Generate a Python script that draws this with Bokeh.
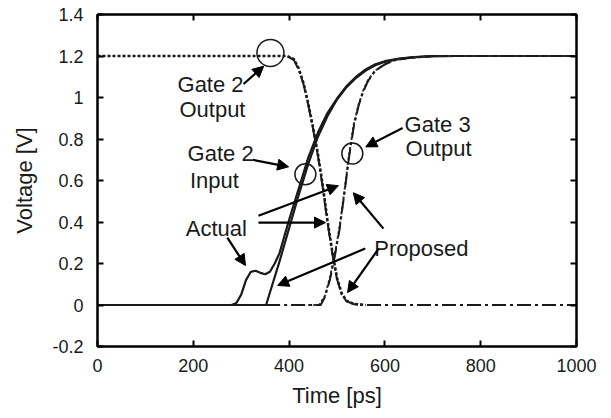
from bokeh.plotting import figure
from bokeh.models import Range1d, LinearAxis, FixedTicker, CustomJSTickFormatter, Arrow, NormalHead
from bokeh.core.properties import value
from bokeh.embed import file_html
from bokeh.resources import INLINE

# ---------------- data ----------------
x_ticks = [0, 200, 400, 600, 800, 1000]
y_ticks = [-0.2, 0, 0.2, 0.4, 0.6, 0.8, 1.0, 1.2, 1.4]

# Gate 2 input, actual (solid, with bump)
g2in_act_t = [0, 280, 290, 300, 310, 320, 330, 340, 350, 360, 370, 380, 400, 420, 440, 460,
              480, 500, 520, 540, 560, 580, 600, 630, 660, 700, 750, 1000]
g2in_act_v = [0, 0, 0.01, 0.05, 0.12, 0.16, 0.165, 0.155, 0.148, 0.16, 0.2, 0.25, 0.41, 0.56,
              0.71, 0.83, 0.925, 0.995, 1.055, 1.1, 1.135, 1.16, 1.175, 1.188, 1.195, 1.199, 1.2, 1.2]

# Gate 2 input, proposed (solid ramp)
g2in_pro_t = [0, 352, 360, 380, 400, 420, 440, 460, 480, 500, 520, 540, 560, 580, 600, 630,
              660, 700, 750, 1000]
g2in_pro_v = [0, 0, 0.06, 0.21, 0.37, 0.53, 0.68, 0.81, 0.91, 0.99, 1.05, 1.095, 1.13, 1.155,
              1.172, 1.186, 1.194, 1.199, 1.2, 1.2]

# Gate 2 output, actual (dotted)
g2out_act_t = [0, 380, 395, 410, 420, 430, 440, 450, 460, 470, 480, 490, 500, 510, 520, 535, 560]
g2out_act_v = [1.2, 1.2, 1.2, 1.185, 1.14, 1.07, 0.97, 0.855, 0.73, 0.58, 0.41, 0.26, 0.13,
               0.055, 0.02, 0.005, 0]

# Gate 2 output, proposed (dash-dot)
g2out_pro_t = [400, 410, 420, 430, 440, 450, 460, 470, 480, 490, 500, 510, 520, 535, 560, 600, 1000]
g2out_pro_v = [1.195, 1.18, 1.135, 1.065, 0.965, 0.85, 0.72, 0.57, 0.40, 0.25, 0.125, 0.05,
               0.018, 0.004, 0, 0, 0]

# Gate 3 output, actual (dotted)
g3out_act_t = [440, 463, 475, 485, 495, 505, 515, 525, 535, 545, 555, 565, 580, 600, 620, 650, 700, 1000]
g3out_act_v = [0, 0, 0.045, 0.13, 0.24, 0.37, 0.54, 0.72, 0.87, 0.965, 1.035, 1.085, 1.13, 1.16,
               1.18, 1.19, 1.2, 1.2]

# Gate 3 output, proposed (dash-dot)
g3out_pro_t = [352, 466, 475, 485, 495, 505, 515, 525, 535, 545, 555, 565, 580, 600, 620, 650, 700, 1000]
g3out_pro_v = [0, 0, 0.04, 0.12, 0.23, 0.36, 0.53, 0.71, 0.86, 0.96, 1.03, 1.08, 1.13, 1.16,
               1.18, 1.19, 1.2, 1.2]

# ---------------- figure ----------------
FONT = "Liberation Sans"
INK = "#1a1a1a"

p = figure(width=611, height=418, output_backend="svg", toolbar_location=None,
           x_range=Range1d(0, 1000), y_range=Range1d(-0.2, 1.4),
           min_border_left=97, min_border_right=35, min_border_top=14, min_border_bottom=72,
           background_fill_color="white", border_fill_color="white")
p.grid.visible = False
p.outline_line_color = "black"
p.outline_line_width = 2

p.add_layout(LinearAxis(), "right")
p.add_layout(LinearAxis(), "above")
for ax in p.xaxis:
    ax.ticker = FixedTicker(ticks=x_ticks)
for ax in p.yaxis:
    ax.ticker = FixedTicker(ticks=y_ticks)
for ax in list(p.xaxis) + list(p.yaxis):
    ax.major_tick_in = 6
    ax.major_tick_out = 0
    ax.minor_tick_line_color = None
    ax.axis_line_color = "black"
    ax.axis_line_width = 2
    ax.major_tick_line_color = "black"
    ax.major_tick_line_width = 2
    ax.major_label_text_font = FONT
    ax.major_label_text_font_size = "18px"
    ax.major_label_text_color = INK
    ax.axis_label_text_font = FONT
    ax.axis_label_text_font_size = "22px"
    ax.axis_label_text_font_style = "normal"
    ax.axis_label_text_color = INK
    ax.formatter = CustomJSTickFormatter(code="return (Math.round(tick*10)/10).toString();")

p.below[0].axis_label = "Time [ps]"
p.below[0].major_label_standoff = 12
p.below[0].axis_label_standoff = 8
p.left[0].axis_label = "Voltage [V]"
p.left[0].major_label_standoff = 14
p.left[0].axis_label_standoff = 12
for ax in (p.right[0], p.above[0]):
    ax.formatter = CustomJSTickFormatter(code="return '';")
    ax.major_label_standoff = 0

# curves
p.line(g2in_act_t, g2in_act_v, line_color=INK, line_width=2.2)
p.line(g2in_pro_t, g2in_pro_v, line_color=INK, line_width=2.2)
p.line(g2out_act_t, g2out_act_v, line_color=INK, line_width=2.6, line_dash="3 2")
p.line(g2out_pro_t, g2out_pro_v, line_color=INK, line_width=2.0, line_dash="14 4 3 4")
p.line(g3out_act_t, g3out_act_v, line_color="#333333", line_width=2.0, line_dash="3 2")
p.line(g3out_pro_t, g3out_pro_v, line_color=INK, line_width=2.0, line_dash="14 4 3 4")

# marker circles
p.scatter([361], [1.215], marker="circle", size=27, fill_color=None, line_color=INK, line_width=1.5)
p.scatter([434, 532], [0.63, 0.73], marker="circle", size=21, fill_color=None, line_color=INK, line_width=1.5)

# annotation texts
txt_x = [236, 240, 257, 244, 248, 676, 710, 712]
txt_y = [1.065, 0.944, 0.728, 0.599, 0.368, 0.272, 0.868, 0.752]
txt_s = ["Gate 2", "Output", "Gate 2", "Input", "Actual", "Proposed", "Gate 3", "Output"]
p.text(txt_x, txt_y, text=txt_s, text_font=value(FONT), text_font_size="22px",
       text_color=INK, text_align="center", text_baseline="alphabetic")

# arrows
arrows = [
    (305, 1.065, 347, 1.151),
    (324, 0.70, 399, 0.666),
    (336, 0.43, 503, 0.575),
    (336, 0.397, 476, 0.397),
    (271, 0.325, 309, 0.19),
    (597, 0.368, 534, 0.541),
    (559, 0.272, 376, 0.094),
    (587, 0.272, 522, 0.06),
    (637, 0.853, 560, 0.762),
]
for xs, ys, xe, ye in arrows:
    p.add_layout(Arrow(end=NormalHead(size=11, fill_color="black", line_color="black", line_width=1),
                       x_start=xs, y_start=ys, x_end=xe, y_end=ye,
                       line_color="black", line_width=2.2))

open("out.html", "w").write(file_html(p, INLINE))
